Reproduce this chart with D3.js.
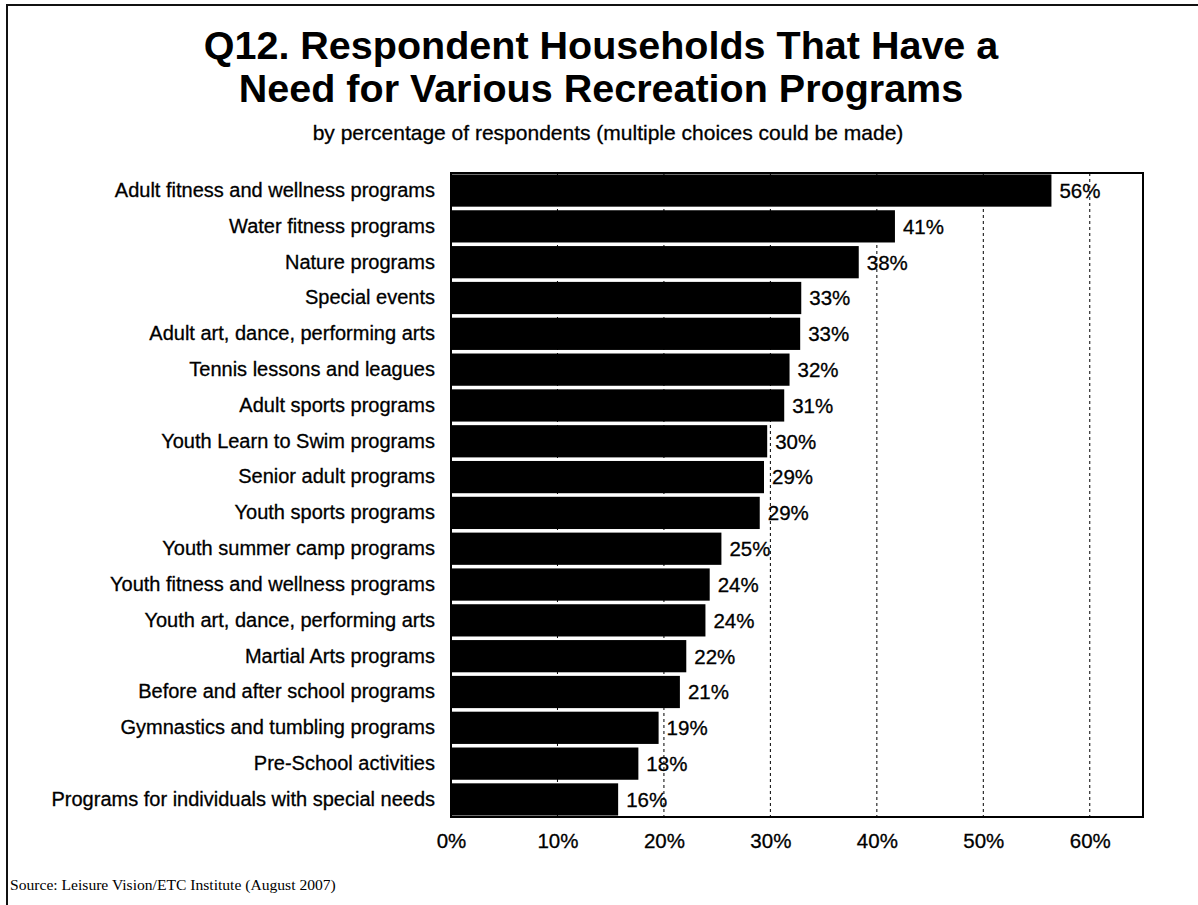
<!DOCTYPE html>
<html><head><meta charset="utf-8">
<script src="https://cdn.jsdelivr.net/npm/d3@7"></script>
<style>body{margin:0;background:#fff}svg{display:block}</style>
</head><body>
<svg id="chart" width="1198" height="905"></svg>
<script>
const categories = [
  "Adult fitness and wellness programs",
  "Water fitness programs",
  "Nature programs",
  "Special events",
  "Adult art, dance, performing arts",
  "Tennis lessons and leagues",
  "Adult sports programs",
  "Youth Learn to Swim programs",
  "Senior adult programs",
  "Youth sports programs",
  "Youth summer camp programs ",
  "Youth fitness and wellness programs",
  "Youth art, dance, performing arts",
  "Martial Arts programs",
  "Before and after school programs",
  "Gymnastics and tumbling programs ",
  "Pre-School activities",
  "Programs for individuals with special needs"
];
const values = [56.4, 41.7, 38.3, 32.9, 32.8, 31.8, 31.3, 29.7, 29.4, 29.0, 25.4, 24.3, 23.9, 22.1, 21.5, 19.5, 17.6, 15.7];
const valueLabels = ["56%","41%","38%","33%","33%","32%","31%","30%","29%","29%","25%","24%","24%","22%","21%","19%","18%","16%"];
const tickValues = [0, 10, 20, 30, 40, 50, 60];
const tickLabels = ["0%","10%","20%","30%","40%","50%","60%"];

const svg = d3.select("#chart");
const pL = 451, pR = 1143, pT = 173, pB = 817;
const sans = "'Liberation Sans', Arial, sans-serif";

const x = d3.scaleLinear().domain([0, 65]).range([pL, pR]);
const y = d3.scaleBand().domain(categories).range([pT, pB]).paddingInner(0.1).paddingOuter(0.04);

// outer frame
svg.append("path").attr("d", "M7,910 L7,5 L1205,5").attr("fill", "none").attr("stroke", "#111").attr("stroke-width", 2);

// titles
const title = svg.append("text").attr("x", 599).attr("text-anchor", "middle")
  .style("font-family", sans).style("font-weight", "bold").style("font-size", "39.5px").attr("fill", "#000");
title.append("tspan").attr("x", 601).attr("y", 59).text("Q12. Respondent Households That Have a");
title.append("tspan").attr("x", 601).attr("y", 102).text("Need for Various Recreation Programs");

svg.append("text").attr("x", 608).attr("y", 140).attr("text-anchor", "middle")
  .style("font-family", sans).style("font-size", "21px")
  .attr("stroke", "#000").attr("stroke-width", 0.3)
  .text("by percentage of respondents (multiple choices could be made)");

// gridlines
svg.append("g").selectAll("line").data(tickValues.filter(d => d > 0)).join("line")
  .attr("x1", d => x(d)).attr("x2", d => x(d)).attr("y1", pT).attr("y2", pB)
  .attr("stroke", "#000").attr("stroke-width", 1).attr("stroke-dasharray", "3,3");

// bars
svg.append("g").selectAll("rect").data(values).join("rect")
  .attr("x", x(0)).attr("y", (d, i) => y(categories[i]))
  .attr("width", d => x(d) - x(0)).attr("height", y.bandwidth()).attr("fill", "#000");

// value labels
svg.append("g").selectAll("text").data(values).join("text")
  .attr("x", d => x(d) + 8).attr("y", (d, i) => y(categories[i]) + y.bandwidth() / 2)
  .attr("dy", "0.36em")
  .style("font-family", sans).style("font-size", "20.5px")
  .attr("stroke", "#000").attr("stroke-width", 0.3)
  .text((d, i) => valueLabels[i]);

// plot border
svg.append("rect").attr("x", pL).attr("y", pT).attr("width", pR - pL).attr("height", pB - pT)
  .attr("fill", "none").attr("stroke", "#000").attr("stroke-width", 2);

// category axis
const yAxis = d3.axisLeft(y).tickSize(0).tickPadding(16);
const gy = svg.append("g").attr("transform", `translate(${pL},0)`).call(yAxis);
gy.select(".domain").remove();
gy.selectAll("text").style("font-family", sans).style("font-size", "20px").attr("fill", "#000")
  .attr("stroke", "#000").attr("stroke-width", 0.3);

// x axis
const xAxis = d3.axisBottom(x).tickValues(tickValues).tickSize(0).tickPadding(16).tickFormat((d, i) => tickLabels[i]);
const gx = svg.append("g").attr("transform", `translate(0,${pB})`).call(xAxis);
gx.select(".domain").remove();
gx.selectAll("text").style("font-family", sans).style("font-size", "20.5px").attr("fill", "#000")
  .attr("stroke", "#000").attr("stroke-width", 0.3);

// source
svg.append("text").attr("x", 10).attr("y", 890)
  .style("font-family", "'Liberation Serif', 'Times New Roman', serif").style("font-size", "15.6px")
  .text("Source:  Leisure Vision/ETC Institute (August 2007)");
</script>
</body></html>
